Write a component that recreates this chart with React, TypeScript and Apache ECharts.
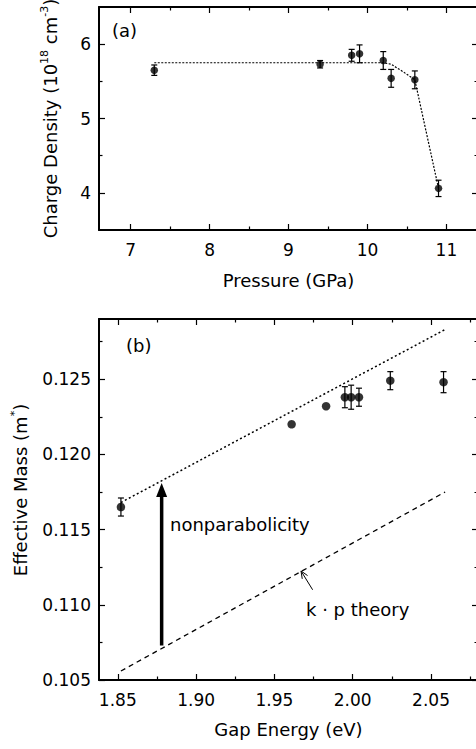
import { useEffect, useRef } from 'react';
import * as echarts from 'echarts';

// ---------- Panel (a) data ----------
const pressure = [7.3, 9.4, 9.8, 9.9, 10.2, 10.3, 10.6, 10.9];
const density = [5.65, 5.73, 5.85, 5.87, 5.78, 5.54, 5.52, 4.06];
const densityErr = [0.07, 0.05, 0.08, 0.12, 0.12, 0.12, 0.12, 0.11];
const fitPressure = [7.3, 10.2, 10.3, 10.45, 10.6, 10.9];
const fitDensity = [5.75, 5.75, 5.73, 5.63, 5.52, 4.06];

// ---------- Panel (b) data ----------
const gapEnergy = [1.852, 1.961, 1.983, 1.995, 1.999, 2.004, 2.024, 2.058];
const mass = [0.1165, 0.122, 0.1232, 0.1238, 0.1238, 0.1238, 0.1249, 0.1248];
const massErr = [0.0006, 0, 0, 0.0007, 0.0008, 0.0006, 0.0006, 0.0007];
const lineEnergy = [1.852, 2.059];
const nonparabolicMass = [0.1168, 0.1283];
const kpMass = [0.1056, 0.1175];
// annotation arrows: [x, yFrom, yTo] and [xTail, yTail, xHead, yHead]
const nonparabolicityArrow = [1.878, 0.1073, 0.1181];
const kpArrow = [1.9744, 0.111, 1.967, 0.11225];

// ---------- ticks ----------
const pressureTicks = [7, 8, 9, 10, 11];
const pressureMinor = [7.5, 8.5, 9.5, 10.5];
const densityTicks = [4, 5, 6];
const densityMinor = [4.5, 5.5];
const energyTicks = [1.85, 1.9, 1.95, 2.0, 2.05];
const energyMinor = [1.875, 1.925, 1.975, 2.025, 2.075];
const massTicks = [0.105, 0.11, 0.115, 0.12, 0.125];
const massMinor = [0.1075, 0.1125, 0.1175, 0.1225, 0.1275];

const FONT = 'DejaVu Sans';
const BLACK = '#000';

function makeAxes(
  dim: 'x' | 'y',
  grid: number,
  min: number,
  max: number,
  majors: number[],
  minors: number[],
  fmt: (v: number) => string,
  name?: string,
  nameGap?: number
) {
  const base: any = {
    type: 'value',
    gridIndex: grid,
    min,
    max,
    splitLine: { show: false },
    axisLine: { show: false, onZero: false },
    axisLabel: { show: false },
    axisTick: { show: false },
  };
  const p1 = dim === 'x' ? 'bottom' : 'left';
  const p2 = dim === 'x' ? 'top' : 'right';
  const line = { show: true, onZero: false, lineStyle: { color: BLACK, width: 2 } };
  const majTick = { show: true, inside: true, length: 6, customValues: majors, lineStyle: { color: BLACK, width: 1.2 } };
  const minTick = { show: true, inside: true, length: 3.5, customValues: minors, lineStyle: { color: BLACK, width: 1.2 } };
  const first: any = {
    ...base,
    position: p1,
    axisLine: line,
    axisTick: majTick,
    axisLabel: {
      show: true,
      customValues: majors,
      formatter: fmt,
      margin: dim === 'x' ? 11 : 8,
      color: BLACK,
      fontSize: 17,
      fontFamily: FONT,
    },
  };
  if (name) {
    first.name = name;
    first.nameLocation = 'middle';
    first.nameGap = nameGap;
    first.nameTextStyle = { color: BLACK, fontSize: 18, fontFamily: FONT };
  }
  return [
    first,
    { ...base, position: p1, axisTick: minTick },
    { ...base, position: p2, axisLine: line, axisTick: majTick },
    { ...base, position: p2, axisTick: minTick },
  ];
}

function errorBarItem(params: any, api: any) {
  const x = api.value(0);
  const y = api.value(1);
  const e = api.value(2);
  if (!e) return { type: 'group', children: [] };
  const hi = api.coord([x, y + e]);
  const lo = api.coord([x, y - e]);
  const w = 3;
  const st = { stroke: BLACK, lineWidth: 1.2 };
  return {
    type: 'group',
    children: [
      { type: 'line', shape: { x1: hi[0], y1: hi[1], x2: lo[0], y2: lo[1] }, style: st },
      { type: 'line', shape: { x1: hi[0] - w, y1: hi[1], x2: hi[0] + w, y2: hi[1] }, style: st },
      { type: 'line', shape: { x1: lo[0] - w, y1: lo[1], x2: lo[0] + w, y2: lo[1] }, style: st },
    ],
  };
}

function bigArrowItem(params: any, api: any) {
  const x = api.value(0);
  const p0 = api.coord([x, api.value(1)]);
  const p1 = api.coord([x, api.value(2)]);
  const headLen = 14;
  const halfW = 5.5;
  return {
    type: 'group',
    children: [
      {
        type: 'line',
        shape: { x1: p0[0], y1: p0[1], x2: p1[0], y2: p1[1] + headLen - 1 },
        style: { stroke: BLACK, lineWidth: 3.5 },
      },
      {
        type: 'polygon',
        shape: { points: [[p1[0], p1[1]], [p1[0] - halfW, p1[1] + headLen], [p1[0] + halfW, p1[1] + headLen]] },
        style: { fill: BLACK },
      },
    ],
  };
}

function thinArrowItem(params: any, api: any) {
  const t = api.coord([api.value(0), api.value(1)]);
  const h = api.coord([api.value(2), api.value(3)]);
  const ang = Math.atan2(t[1] - h[1], t[0] - h[0]);
  const L = 8;
  const da = 0.4;
  const a1 = [h[0] + L * Math.cos(ang + da), h[1] + L * Math.sin(ang + da)];
  const a2 = [h[0] + L * Math.cos(ang - da), h[1] + L * Math.sin(ang - da)];
  const st = { stroke: BLACK, lineWidth: 1, fill: 'none' };
  return {
    type: 'group',
    children: [
      { type: 'line', shape: { x1: t[0], y1: t[1], x2: h[0], y2: h[1] }, style: st },
      { type: 'polyline', shape: { points: [a1, h, a2] }, style: st },
    ],
  };
}

export default function App() {
  const ref = useRef<HTMLDivElement>(null);
  useEffect(() => {
    if (!ref.current) return;
    const chart = echarts.init(ref.current, undefined, { renderer: 'svg' });
    const xA = [
      ...makeAxes('x', 0, 6.6, 11.4, pressureTicks, pressureMinor, (v) => String(v), 'Pressure (GPa)', 41),
      ...makeAxes('x', 1, 1.838, 2.08, energyTicks, energyMinor, (v) => v.toFixed(2), 'Gap Energy (eV)', 40),
    ];
    const yA = [
      ...makeAxes('y', 0, 3.5, 6.5, densityTicks, densityMinor, (v) => String(v)),
      ...makeAxes('y', 1, 0.105, 0.129, massTicks, massMinor, (v) => v.toFixed(3)),
    ];
    const rich = {
      n: { fontSize: 18, fontFamily: FONT, fill: BLACK, lineHeight: 22 },
      s: { fontSize: 11, fontFamily: FONT, fill: BLACK, verticalAlign: 'top' },
    };
    const option: any = {
      animation: false,
      backgroundColor: '#fff',
      grid: [
        { left: 99, top: 7, width: 379, height: 223, outerBoundsMode: 'none', containLabel: false },
        { left: 99, top: 319, width: 379, height: 361, outerBoundsMode: 'none', containLabel: false },
      ],
      xAxis: xA,
      yAxis: yA,
      graphic: [
        { type: 'text', x: 112, y: 30, style: { text: '(a)', fontSize: 18, fontFamily: FONT, fill: BLACK, verticalAlign: 'middle' } },
        { type: 'text', x: 126, y: 345, style: { text: '(b)', fontSize: 18, fontFamily: FONT, fill: BLACK, verticalAlign: 'middle' } },
        { type: 'text', x: 170, y: 524, style: { text: 'nonparabolicity', fontSize: 18, fontFamily: FONT, fill: BLACK, verticalAlign: 'middle' } },
        { type: 'text', x: 306, y: 609, style: { text: 'k · p theory', fontSize: 18, fontFamily: FONT, fill: BLACK, verticalAlign: 'middle' } },
        {
          type: 'text',
          x: 50,
          y: 118.5,
          rotation: Math.PI / 2,
          style: {
            text: '{n|Charge Density (10}{s|18}{n| cm}{s|-3}{n|)}',
            rich,
            fontSize: 18,
            fontFamily: FONT,
            fill: BLACK,
            align: 'center',
            verticalAlign: 'middle',
          },
        },
        {
          type: 'text',
          x: 20,
          y: 490,
          rotation: Math.PI / 2,
          style: {
            text: '{n|Effective Mass (m}{s|*}{n|)}',
            rich,
            fontSize: 18,
            fontFamily: FONT,
            fill: BLACK,
            align: 'center',
            verticalAlign: 'middle',
          },
        },
      ],
      series: [
        {
          type: 'line',
          xAxisIndex: 0,
          yAxisIndex: 0,
          data: fitPressure.map((p, i) => [p, fitDensity[i]]),
          symbol: 'none',
          lineStyle: { color: BLACK, width: 1.2, type: [2, 1.5] },
          z: 2,
        },
        {
          type: 'custom',
          xAxisIndex: 0,
          yAxisIndex: 0,
          data: pressure.map((p, i) => [p, density[i], densityErr[i]]),
          encode: { x: 0, y: 1 },
          renderItem: errorBarItem,
          z: 3,
        },
        {
          type: 'scatter',
          xAxisIndex: 0,
          yAxisIndex: 0,
          data: pressure.map((p, i) => [p, density[i]]),
          symbol: 'circle',
          symbolSize: 7.5,
          itemStyle: { color: BLACK },
          z: 4,
        },
        {
          type: 'line',
          xAxisIndex: 4,
          yAxisIndex: 4,
          data: lineEnergy.map((e, i) => [e, nonparabolicMass[i]]),
          symbol: 'none',
          lineStyle: { color: BLACK, width: 1.5, type: [2, 2.5] },
          z: 2,
        },
        {
          type: 'line',
          xAxisIndex: 4,
          yAxisIndex: 4,
          data: lineEnergy.map((e, i) => [e, kpMass[i]]),
          symbol: 'none',
          lineStyle: { color: BLACK, width: 1.3, type: [5, 4] },
          z: 2,
        },
        {
          type: 'custom',
          xAxisIndex: 4,
          yAxisIndex: 4,
          data: gapEnergy.map((e, i) => [e, mass[i], massErr[i]]),
          encode: { x: 0, y: 1 },
          renderItem: errorBarItem,
          z: 3,
        },
        {
          type: 'scatter',
          xAxisIndex: 4,
          yAxisIndex: 4,
          data: gapEnergy.map((e, i) => [e, mass[i]]),
          symbol: 'circle',
          symbolSize: 8.5,
          itemStyle: { color: BLACK },
          z: 4,
        },
        {
          type: 'custom',
          xAxisIndex: 4,
          yAxisIndex: 4,
          data: [nonparabolicityArrow],
          encode: { x: 0, y: [1, 2] },
          renderItem: bigArrowItem,
          z: 5,
        },
        {
          type: 'custom',
          xAxisIndex: 4,
          yAxisIndex: 4,
          data: [kpArrow],
          encode: { x: [0, 2], y: [1, 3] },
          renderItem: thinArrowItem,
          z: 5,
        },
      ],
    };
    chart.setOption(option);
    return () => chart.dispose();
  }, []);
  return (
    <div
      ref={ref}
      style={{ position: 'absolute', left: 0, top: 0, width: 476, height: 749, background: '#fff' }}
    />
  );
}
